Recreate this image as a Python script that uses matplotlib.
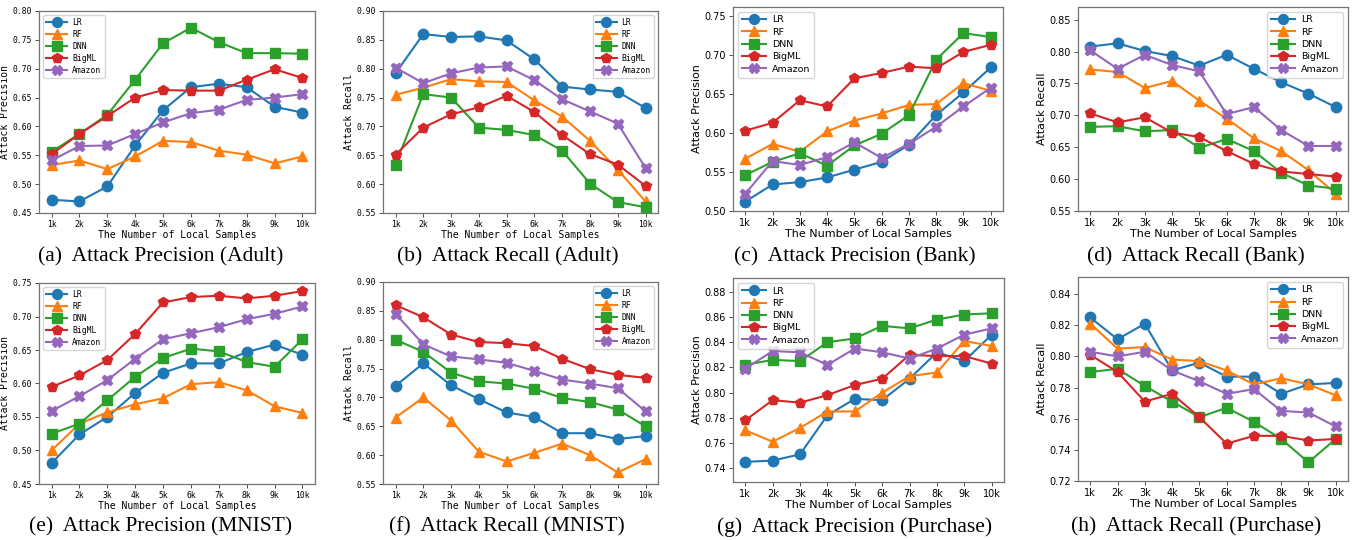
import numpy as np
import matplotlib
matplotlib.use("Agg")
import matplotlib.pyplot as plt
from matplotlib.ticker import FormatStrFormatter

samples = ["1k", "2k", "3k", "4k", "5k", "6k", "7k", "8k", "9k", "10k"]
models = ["LR", "RF", "DNN", "BigML", "Amazon"]

# rows: LR, RF, DNN, BigML, Amazon
adult_precision = [
    [0.473, 0.470, 0.496, 0.567, 0.628, 0.668, 0.674, 0.668, 0.634, 0.624],
    [0.533, 0.541, 0.526, 0.548, 0.575, 0.573, 0.558, 0.551, 0.536, 0.548],
    [0.556, 0.587, 0.620, 0.681, 0.744, 0.771, 0.746, 0.727, 0.727, 0.726],
    [0.552, 0.587, 0.618, 0.650, 0.663, 0.662, 0.662, 0.681, 0.699, 0.684],
    [0.541, 0.566, 0.567, 0.587, 0.607, 0.623, 0.629, 0.646, 0.650, 0.656],
]
adult_recall = [
    [0.792, 0.860, 0.855, 0.856, 0.849, 0.816, 0.769, 0.764, 0.760, 0.732],
    [0.755, 0.767, 0.782, 0.778, 0.777, 0.745, 0.717, 0.675, 0.625, 0.570],
    [0.634, 0.756, 0.750, 0.698, 0.694, 0.685, 0.658, 0.601, 0.569, 0.560],
    [0.651, 0.698, 0.721, 0.733, 0.753, 0.725, 0.685, 0.652, 0.634, 0.597],
    [0.802, 0.775, 0.792, 0.802, 0.804, 0.780, 0.747, 0.726, 0.705, 0.628],
]
bank_precision = [
    [0.512, 0.534, 0.537, 0.543, 0.553, 0.563, 0.585, 0.623, 0.652, 0.684],
    [0.567, 0.586, 0.576, 0.602, 0.616, 0.625, 0.636, 0.637, 0.664, 0.654],
    [0.546, 0.563, 0.574, 0.558, 0.584, 0.599, 0.623, 0.694, 0.728, 0.723],
    [0.603, 0.613, 0.642, 0.634, 0.670, 0.677, 0.685, 0.683, 0.704, 0.713],
    [0.522, 0.564, 0.559, 0.569, 0.588, 0.568, 0.586, 0.608, 0.634, 0.658],
]
bank_recall = [
    [0.808, 0.813, 0.801, 0.793, 0.778, 0.795, 0.773, 0.752, 0.734, 0.713],
    [0.772, 0.768, 0.743, 0.754, 0.723, 0.695, 0.664, 0.644, 0.614, 0.577],
    [0.682, 0.683, 0.675, 0.677, 0.649, 0.663, 0.644, 0.610, 0.590, 0.585],
    [0.703, 0.689, 0.697, 0.673, 0.666, 0.644, 0.624, 0.612, 0.608, 0.604],
    [0.802, 0.773, 0.795, 0.779, 0.769, 0.702, 0.713, 0.677, 0.652, 0.652],
]
mnist_precision = [
    [0.481, 0.524, 0.550, 0.586, 0.616, 0.630, 0.630, 0.647, 0.658, 0.643],
    [0.500, 0.540, 0.557, 0.569, 0.578, 0.599, 0.602, 0.590, 0.566, 0.556],
    [0.525, 0.540, 0.575, 0.610, 0.638, 0.652, 0.648, 0.632, 0.625, 0.666],
    [0.595, 0.612, 0.635, 0.674, 0.721, 0.729, 0.731, 0.727, 0.731, 0.738],
    [0.559, 0.581, 0.605, 0.637, 0.666, 0.675, 0.684, 0.696, 0.704, 0.715],
]
mnist_recall = [
    [0.720, 0.759, 0.721, 0.697, 0.674, 0.666, 0.638, 0.638, 0.628, 0.633],
    [0.665, 0.700, 0.660, 0.606, 0.589, 0.604, 0.620, 0.600, 0.570, 0.593],
    [0.800, 0.779, 0.743, 0.728, 0.724, 0.715, 0.699, 0.692, 0.679, 0.650],
    [0.860, 0.839, 0.809, 0.796, 0.794, 0.789, 0.767, 0.749, 0.739, 0.734],
    [0.845, 0.792, 0.771, 0.766, 0.760, 0.746, 0.731, 0.724, 0.716, 0.676],
]
purchase_precision = [
    [0.745, 0.746, 0.751, 0.782, 0.795, 0.794, 0.811, 0.832, 0.825, 0.846],
    [0.770, 0.761, 0.772, 0.785, 0.785, 0.800, 0.813, 0.816, 0.841, 0.837],
    [0.822, 0.826, 0.825, 0.840, 0.843, 0.853, 0.851, 0.858, 0.862, 0.863],
    [0.778, 0.794, 0.792, 0.798, 0.806, 0.811, 0.830, 0.829, 0.829, 0.823],
    [0.819, 0.833, 0.832, 0.822, 0.835, 0.832, 0.827, 0.835, 0.846, 0.851],
]
purchase_recall = [
    [0.825, 0.811, 0.821, 0.791, 0.796, 0.787, 0.787, 0.776, 0.782, 0.783],
    [0.821, 0.805, 0.806, 0.798, 0.797, 0.791, 0.782, 0.786, 0.782, 0.775],
    [0.790, 0.792, 0.781, 0.771, 0.761, 0.767, 0.758, 0.747, 0.732, 0.747],
    [0.801, 0.790, 0.771, 0.776, 0.761, 0.744, 0.749, 0.749, 0.746, 0.747],
    [0.803, 0.800, 0.803, 0.791, 0.784, 0.776, 0.779, 0.765, 0.764, 0.755],
]

captions = [
    "(a)  Attack Precision (Adult)", "(b)  Attack Recall (Adult)",
    "(c)  Attack Precision (Bank)", "(d)  Attack Recall (Bank)",
    "(e)  Attack Precision (MNIST)", "(f)  Attack Recall (MNIST)",
    "(g)  Attack Precision (Purchase)", "(h)  Attack Recall (Purchase)",
]

colors = ["#1f77b4", "#ff7f0e", "#2ca02c", "#d62728", "#9467bd"]
markers = ["o", "^", "s", "p", "X"]

W, H = 1355, 540

# (data, ylabel, box px (l, r, t, b), ylim, yticks, legend loc, mono font, caption x)
panels = [
    (adult_precision, "Attack Precision", (39, 315, 11, 213), (0.45, 0.80),
     np.arange(0.45, 0.801, 0.05), "upper left", True, 161),
    (adult_recall, "Attack Recall", (383, 658, 11, 213), (0.55, 0.90),
     np.arange(0.55, 0.901, 0.05), "upper right", True, 508),
    (bank_precision, "Attack Precision", (733, 1003, 7, 211), (0.50, 0.7615),
     np.arange(0.50, 0.751, 0.05), "upper left", False, 855),
    (bank_recall, "Attack Recall", (1078, 1348, 7, 211), (0.55, 0.87),
     np.arange(0.55, 0.851, 0.05), "upper right", False, 1196),
    (mnist_precision, "Attack Precision", (39, 315, 283, 484), (0.45, 0.75),
     np.arange(0.45, 0.751, 0.05), "upper left", True, 161),
    (mnist_recall, "Attack Recall", (383, 658, 282, 484), (0.55, 0.90),
     np.arange(0.55, 0.901, 0.05), "upper right", True, 507),
    (purchase_precision, "Attack Precision", (733, 1004, 278, 482), (0.729, 0.891),
     np.arange(0.74, 0.881, 0.02), "upper left", False, 855),
    (purchase_recall, "Attack Recall", (1078, 1348, 277, 481), (0.72, 0.851),
     np.arange(0.72, 0.841, 0.02), "upper right", False, 1196),
]

fig = plt.figure(figsize=(W / 100, H / 100), dpi=100)

for i, (data, ylab, (l, r, t, b), ylim, yt, loc, mono, cx) in enumerate(panels):
    ax = fig.add_axes([l / W, 1 - b / H, (r - l) / W, (b - t) / H])
    x = np.arange(len(samples))
    for vals, name, c, m in zip(data, models, colors, markers):
        ax.plot(x, vals, color=c, marker=m, ms=7.5, lw=1.5, label=name)

    fam = "DejaVu Sans Mono" if mono else "DejaVu Sans"
    tick_fs = 5.8 if mono else 7
    lab_fs = 7 if mono else 8

    ax.set_xticks(x)
    ax.set_xticklabels(samples)
    ax.set_yticks(yt)
    ax.set_ylim(*ylim)
    ax.yaxis.set_major_formatter(FormatStrFormatter("%.2f"))
    ax.tick_params(labelsize=tick_fs, length=3, width=0.7, color="0.3", pad=2)
    for lab in ax.get_xticklabels() + ax.get_yticklabels():
        lab.set_family(fam)
    for sp in ax.spines.values():
        sp.set_color("0.45")
        sp.set_linewidth(0.9)

    ax.set_xlabel("The Number of Local Samples", family=fam, fontsize=lab_fs, labelpad=1)
    ax.set_ylabel(ylab, family=fam, fontsize=lab_fs, labelpad=2)

    ax.legend(loc=loc, prop={"family": fam, "size": tick_fs if mono else 6.8},
              handlelength=2.6, labelspacing=0.35, borderpad=0.4,
              handletextpad=0.6, markerscale=0.95)

    cy = 257 if i < 4 else 527
    fig.text(cx / W, 1 - cy / H, captions[i], ha="center", va="center",
             family="Liberation Serif", fontsize=15.5)

fig.savefig("out.png", dpi=100)
